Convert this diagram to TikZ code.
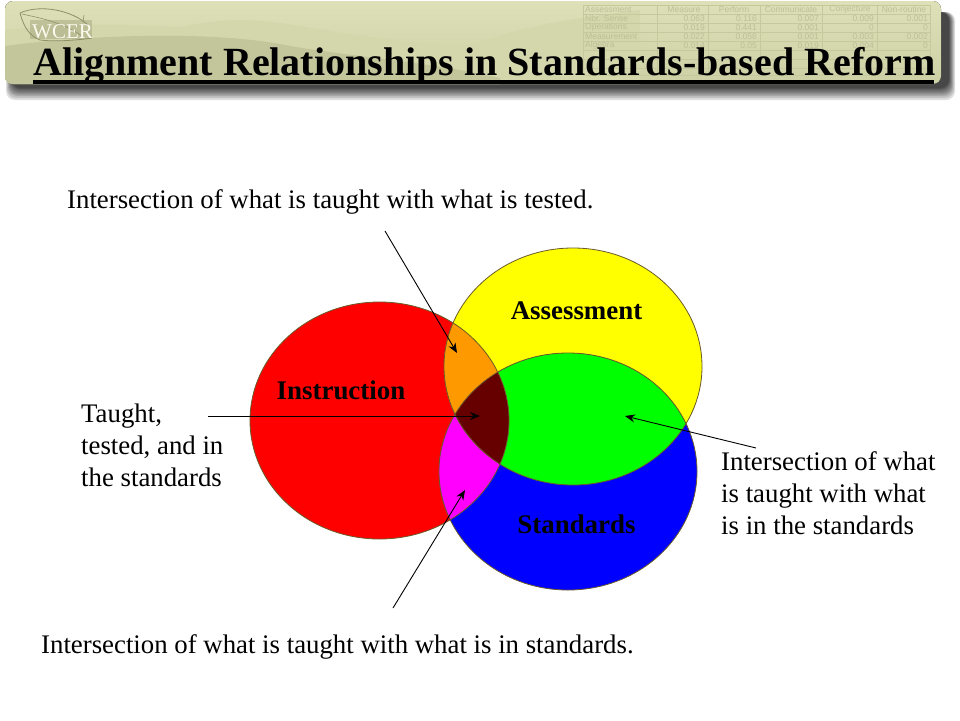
\documentclass[tikz,border=0pt]{standalone}
\usepackage{fontspec}
\setmainfont{Liberation Serif}
\setsansfont{Liberation Sans}
\usetikzlibrary{arrows.meta}
\definecolor{bannerA}{HTML}{DEE0B8}
\definecolor{bannerB}{HTML}{CDCFA4}
\definecolor{hillA}{HTML}{D4D6AC}
\definecolor{hillB}{HTML}{C3C59A}
\definecolor{tableline}{HTML}{C6C89E}
\definecolor{tabletext}{HTML}{BDBF96}
\definecolor{vennline}{HTML}{6A5A28}
\definecolor{orangeR}{HTML}{FF9900}
\definecolor{darkR}{HTML}{660000}
\definecolor{pureY}{HTML}{FFFF00}
\definecolor{pureM}{HTML}{FF00FF}
\definecolor{pureR}{HTML}{FF0000}
\definecolor{pureG}{HTML}{00FF00}
\definecolor{pureB}{HTML}{0000FF}
\definecolor{logotext}{HTML}{FAFAEE}
\definecolor{logoline}{HTML}{8E9068}
\tikzset{
  bodytext/.style={font=\fontsize{26.8}{32}\selectfont,anchor=base west,inner sep=0pt,align=left},
  venntext/.style={font=\fontsize{26.9}{32}\selectfont\bfseries,anchor=base,inner sep=0pt},
  conn/.style={draw=black,line width=0.9pt,-{Stealth[length=10pt,width=8pt]}},
  vennedge/.style={draw=vennline,line width=0.8pt},
  tabtext/.style={font=\sffamily\fontsize{8.5}{9}\selectfont,text=tabletext,inner sep=0pt}
}
\begin{document}
\begin{tikzpicture}[x=1pt,y=-1pt]
\useasboundingbox (0,0) rectangle (960,720);
\fill[white] (0,0) rectangle (960,720);
% banner shadow, built up in soft layers
\foreach \gr in {12,10,8,6.5,5,3.5,2,1,0}
  \fill[black,opacity=0.13,rounded corners=9pt] (12-\gr*0.5,12) rectangle (949+\gr*0.5,88+\gr);
% banner
\fill[top color=bannerA,bottom color=bannerB,rounded corners=8pt] (5,1) rectangle (941,84);
\begin{scope}
\clip[rounded corners=8pt] (5,1) rectangle (941,84);
\fill[hillA] (5,30) .. controls (90,22) and (130,25) .. (180,27) .. controls (220,20) and (240,16) .. (300,26) .. controls (370,38) and (420,44) .. (470,46) .. controls (500,34) and (540,22) .. (640,10) -- (640,84) -- (5,84) -- cycle;
\fill[hillB] (5,46) .. controls (80,36) and (200,30) .. (280,44) .. controls (340,56) and (420,60) .. (500,78) -- (500,84) -- (5,84) -- cycle;
\end{scope}
% faint table
\foreach \yy in {5,14,23,32,41,50,59,68,75} \draw[tableline,line width=0.5pt] (583,\yy) -- (930,\yy);
\foreach \xx in {583,657,708,760,822,877,930} \draw[tableline,line width=0.5pt] (\xx,5) -- (\xx,75);
\node[tabtext,anchor=west] (th0) at (585,9.5) {Assessment};
\node[tabtext] (th1) at (684,9.5) {Measure};
\node[tabtext] (th2) at (734,9.5) {Perform};
\node[tabtext] (th3) at (791,9.5) {Communicate};
\node[tabtext] (th4) at (850,9.5) {Conjecture};
\node[tabtext] (th5) at (904,9.5) {Non-routine};
\node[tabtext,anchor=west] (r1) at (585,18.5) {Nbr. Sense};
\node[tabtext,anchor=west] (r2) at (585,27.5) {Operations};
\node[tabtext,anchor=west] (r3) at (585,36.5) {Measurement};
\node[tabtext,anchor=west] (r4) at (585,45.5) {Algebra};
\node[tabtext,anchor=east] (c11) at (705,18.5) {0.063};
\node[tabtext,anchor=east] (c12) at (757,18.5) {0.116};
\node[tabtext,anchor=east] (c13) at (819,18.5) {0.007};
\node[tabtext,anchor=east] (c14) at (874,18.5) {0.009};
\node[tabtext,anchor=east] (c15) at (928,18.5) {0.001};
\node[tabtext,anchor=east] (c21) at (705,27.5) {0.019};
\node[tabtext,anchor=east] (c22) at (757,27.5) {0.441};
\node[tabtext,anchor=east] (c23) at (819,27.5) {0.001};
\node[tabtext,anchor=east] (c24) at (874,27.5) {0};
\node[tabtext,anchor=east] (c25) at (928,27.5) {0};
\node[tabtext,anchor=east] (c31) at (705,36.5) {0.022};
\node[tabtext,anchor=east] (c32) at (757,36.5) {0.056};
\node[tabtext,anchor=east] (c33) at (819,36.5) {0.001};
\node[tabtext,anchor=east] (c34) at (874,36.5) {0.003};
\node[tabtext,anchor=east] (c35) at (928,36.5) {0.002};
\node[tabtext,anchor=east] (c41) at (705,45.5) {0.014};
\node[tabtext,anchor=east] (c42) at (757,45.5) {0.05};
\node[tabtext,anchor=east] (c43) at (819,45.5) {0.019};
\node[tabtext,anchor=east] (c44) at (874,45.5) {0.004};
\node[tabtext,anchor=east] (c45) at (928,45.5) {0};
% logo
\fill[logoline,opacity=0.35] (30,20) rectangle (92,39);
\draw[logoline,line width=0.8pt] (20,13) .. controls (40,4) and (72,10) .. (88,25) (20,13) .. controls (24,28) and (30,36) .. (40,40) .. controls (55,42) and (80,40) .. (92,38);
\draw[logoline,line width=0.6pt] (22,14) .. controls (40,18) and (62,22) .. (82,36) (84,15) -- (83,22);
\node[font=\fontsize{21}{21}\selectfont,text=logotext,inner sep=0pt,anchor=base west] (logo) at (32,38) {WCER};
% title
\node[font=\fontsize{40}{44}\selectfont\bfseries,inner sep=0pt,anchor=base west] (title) at (33,75) {Alignment Relationships in Standards-based Reform};
\fill[black] (33,80) rectangle (934,83.5);
% venn
\def\EI{(379.5,420.5) ellipse [x radius=129.5,y radius=118.5]}
\def\EA{(573,366.5) ellipse [x radius=129,y radius=118.5]}
\def\ES{(568,471.5) ellipse [x radius=129,y radius=118.5]}
\fill[pureR] \EI;
\fill[pureY] \EA;
\fill[pureB] \ES;
\begin{scope}\clip \EA; \fill[pureG] \ES;\end{scope}
\begin{scope}\clip \EI; \fill[orangeR] \EA;\end{scope}
\begin{scope}\clip \EI; \fill[pureM] \ES;\end{scope}
\begin{scope}\clip \EI; \clip \EA; \fill[darkR] \ES;\end{scope}
\draw[vennedge] \EI;
\draw[vennedge] \EA;
\draw[vennedge] \ES;
% labels
\node[venntext] (inst) at (341,399) {Instruction};
\node[venntext] (asse) at (576.5,319) {Assessment};
\node[venntext] (stan) at (576.5,533) {Standards};
\node[bodytext] (t1) at (67,208) {Intersection of what is taught with what is tested.};
\node[bodytext] (t2) at (41,653) {Intersection of what is taught with what is in standards.};
\node[bodytext,anchor=north west] (t3) at (81,404) {Taught,\\tested, and in\\the standards};
\node[bodytext,anchor=north west] (t4) at (721,451) {Intersection of what\\is taught with what\\is in the standards};
% connectors
\coordinate (a1s) at (385,231); \coordinate (a1e) at (457,353);
\coordinate (a2s) at (208,416); \coordinate (a2e) at (480,416);
\coordinate (a3s) at (393,608); \coordinate (a3e) at (465,490);
\coordinate (a4s) at (756,448); \coordinate (a4e) at (625,416);
\draw[conn] (a1s) -- (a1e);
\draw[conn] (a2s) -- (a2e);
\draw[conn] (a3s) -- (a3e);
\draw[conn] (a4s) -- (a4e);
\end{tikzpicture}
\end{document}
